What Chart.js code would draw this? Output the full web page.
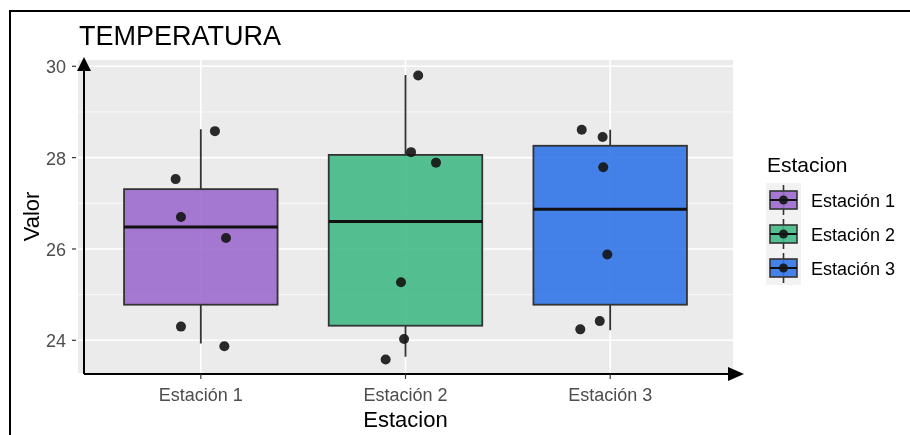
<!DOCTYPE html>
<html>
<head>
<meta charset="utf-8">
<script src="https://cdn.jsdelivr.net/npm/chart.js@4"></script>
<style>
  html, body { margin: 0; padding: 0; background: #fff; }
  #wrap { width: 910px; height: 435px; position: relative; }
</style>
</head>
<body>
<div id="wrap"><canvas id="boxChart"></canvas></div>
<script>
const categories = ['Estación 1', 'Estación 2', 'Estación 3'];
const boxColors = ['rgba(156, 106, 206, 0.9)', 'rgba(67, 186, 135, 0.9)', 'rgba(49, 116, 232, 0.9)'];

// box stats per station
const whiskerLow = [23.93, 23.64, 24.22];
const q1 = [24.78, 24.32, 24.78];
const median = [26.48, 26.60, 26.87];
const q3 = [27.31, 28.06, 28.26];
const whiskerHigh = [28.62, 29.81, 28.61];

// jittered observations
const valuesEst1 = [28.58, 27.53, 26.70, 26.24, 24.30, 23.87];
const jitterEst1 = [1.069, 0.877, 0.903, 1.123, 0.903, 1.115];
const valuesEst2 = [29.80, 28.12, 27.89, 25.27, 24.03, 23.58];
const jitterEst2 = [2.062, 2.027, 2.149, 1.978, 1.993, 1.903];
const valuesEst3 = [28.61, 28.45, 27.79, 25.88, 24.42, 24.24];
const jitterEst3 = [2.861, 2.963, 2.966, 2.986, 2.949, 2.854];

const yTicks = [24, 26, 28, 30];
const yMinor = [25, 27, 29];

const FONT = '"Liberation Sans", Arial, sans-serif';
const toPoints = (xs, ys) => ys.map((y, i) => ({ x: xs[i], y }));

const ggPlugin = {
  id: 'ggBoxplot',
  beforeDatasetsDraw(chart) {
    const { ctx, chartArea: a, scales: { x, y } } = chart;
    ctx.save();
    // panel
    ctx.fillStyle = '#EBEBEB';
    ctx.fillRect(a.left, a.top, a.right - a.left, a.bottom - a.top);
    ctx.strokeStyle = '#FFFFFF';
    ctx.lineWidth = 0.8;
    yMinor.forEach(v => {
      const py = y.getPixelForValue(v);
      ctx.beginPath(); ctx.moveTo(a.left, py); ctx.lineTo(a.right, py); ctx.stroke();
    });
    ctx.lineWidth = 1.6;
    yTicks.forEach(v => {
      const py = y.getPixelForValue(v);
      ctx.beginPath(); ctx.moveTo(a.left, py); ctx.lineTo(a.right, py); ctx.stroke();
    });
    categories.forEach((c, i) => {
      const px = x.getPixelForValue(i + 1);
      ctx.beginPath(); ctx.moveTo(px, a.top); ctx.lineTo(px, a.bottom); ctx.stroke();
    });

    // boxes
    categories.forEach((c, i) => {
      const cx = x.getPixelForValue(i + 1);
      const x0 = x.getPixelForValue(i + 1 - 0.375);
      const x1 = x.getPixelForValue(i + 1 + 0.375);
      const yq1 = y.getPixelForValue(q1[i]);
      const yq3 = y.getPixelForValue(q3[i]);
      ctx.strokeStyle = '#333333';
      ctx.lineWidth = 1.8;
      ctx.beginPath();
      ctx.moveTo(cx, y.getPixelForValue(whiskerHigh[i])); ctx.lineTo(cx, yq3);
      ctx.moveTo(cx, yq1); ctx.lineTo(cx, y.getPixelForValue(whiskerLow[i]));
      ctx.stroke();
      ctx.fillStyle = boxColors[i];
      ctx.fillRect(x0, yq3, x1 - x0, yq1 - yq3);
      ctx.strokeRect(x0, yq3, x1 - x0, yq1 - yq3);
      ctx.strokeStyle = '#111';
      ctx.lineWidth = 3;
      const ym = y.getPixelForValue(median[i]);
      ctx.beginPath(); ctx.moveTo(x0, ym); ctx.lineTo(x1, ym); ctx.stroke();
    });
    ctx.restore();
  },
  afterDraw(chart) {
    const { ctx, chartArea: a, scales: { x, y } } = chart;
    ctx.save();
    // axes with arrows
    const ax = a.left + 6, ay = a.bottom + 1;
    ctx.strokeStyle = '#000';
    ctx.fillStyle = '#000';
    ctx.lineWidth = 2;
    ctx.beginPath();
    ctx.moveTo(ax, ay); ctx.lineTo(ax, a.top + 4);
    ctx.moveTo(ax, ay); ctx.lineTo(a.right + 0, ay);
    ctx.stroke();
    ctx.beginPath();
    ctx.moveTo(ax, a.top - 3); ctx.lineTo(ax - 7, a.top + 11); ctx.lineTo(ax + 7, a.top + 11); ctx.closePath();
    ctx.fill();
    ctx.beginPath();
    ctx.moveTo(a.right + 11, ay); ctx.lineTo(a.right - 5, ay - 7); ctx.lineTo(a.right - 5, ay + 7); ctx.closePath();
    ctx.fill();

    // ticks + labels
    ctx.strokeStyle = '#333';
    ctx.lineWidth = 1.2;
    ctx.fillStyle = '#4D4D4D';
    ctx.font = '18px ' + FONT;
    ctx.textAlign = 'right';
    ctx.textBaseline = 'middle';
    yTicks.forEach(v => {
      const py = y.getPixelForValue(v);
      ctx.beginPath(); ctx.moveTo(a.left - 6, py); ctx.lineTo(a.left - 2, py); ctx.stroke();
      ctx.fillText(String(v), a.left - 12, py + 2);
    });
    ctx.textAlign = 'center';
    ctx.textBaseline = 'alphabetic';
    categories.forEach((c, i) => {
      const px = x.getPixelForValue(i + 1);
      ctx.beginPath(); ctx.moveTo(px, ay); ctx.lineTo(px, ay + 5); ctx.stroke();
      ctx.fillText(c, px, 401);
    });

    // axis titles
    ctx.fillStyle = '#000';
    ctx.font = '22px ' + FONT;
    ctx.fillText('Estacion', (a.left + a.right) / 2, 427);
    ctx.save();
    ctx.translate(39, (a.top + a.bottom) / 2);
    ctx.rotate(-Math.PI / 2);
    ctx.fillText('Valor', 0, 0);
    ctx.restore();

    // title
    ctx.textAlign = 'left';
    ctx.font = '27px ' + FONT;
    ctx.fillText('TEMPERATURA', 79, 45);

    // legend
    ctx.font = '21px ' + FONT;
    ctx.fillText('Estacion', 767, 172);
    const kx = 766, ky = 183, kw = 35, kh = 34;
    ctx.fillStyle = '#F2F2F2';
    ctx.fillRect(kx, ky, kw, kh * categories.length);
    categories.forEach((c, i) => {
      const top = ky + i * kh;
      const cx = kx + kw / 2, cy = top + kh / 2;
      ctx.strokeStyle = '#333';
      ctx.lineWidth = 1.6;
      ctx.beginPath(); ctx.moveTo(cx, top + 2); ctx.lineTo(cx, top + kh - 2); ctx.stroke();
      ctx.fillStyle = boxColors[i];
      ctx.fillRect(kx + 4, top + 8, kw - 8, kh - 16);
      ctx.strokeRect(kx + 4, top + 8, kw - 8, kh - 16);
      ctx.strokeStyle = '#111';
      ctx.lineWidth = 2;
      ctx.beginPath(); ctx.moveTo(kx + 4, cy); ctx.lineTo(kx + kw - 4, cy); ctx.stroke();
      ctx.fillStyle = 'rgba(20, 20, 20, 0.9)';
      ctx.beginPath(); ctx.arc(cx, cy, 4.5, 0, Math.PI * 2); ctx.fill();
      ctx.fillStyle = '#000';
      ctx.font = '18px ' + FONT;
      ctx.textBaseline = 'middle';
      ctx.fillText(c, 811, cy + 2);
      ctx.textBaseline = 'alphabetic';
    });

    // outer frame
    ctx.strokeStyle = '#000';
    ctx.lineWidth = 2;
    ctx.strokeRect(10, 11, 920, 440);
    ctx.restore();
  }
};

const pointStyle = {
  pointRadius: 5,
  pointHoverRadius: 5,
  pointBackgroundColor: 'rgba(20, 20, 20, 0.9)',
  pointBorderWidth: 0,
  showLine: false,
};

new Chart(document.getElementById('boxChart'), {
  type: 'scatter',
  data: {
    datasets: [
      { label: categories[0], data: toPoints(jitterEst1, valuesEst1), ...pointStyle },
      { label: categories[1], data: toPoints(jitterEst2, valuesEst2), ...pointStyle },
      { label: categories[2], data: toPoints(jitterEst3, valuesEst3), ...pointStyle },
    ],
  },
  options: {
    responsive: true,
    maintainAspectRatio: false,
    animation: false,
    layout: { padding: { left: 78, top: 60, right: 177, bottom: 62 } },
    scales: {
      x: { type: 'linear', min: 0.4, max: 3.6, display: false },
      y: { type: 'linear', min: 23.284, max: 30.138, display: false },
    },
    plugins: {
      legend: { display: false },
      tooltip: { enabled: false },
    },
  },
  plugins: [ggPlugin],
});
</script>
</body>
</html>
